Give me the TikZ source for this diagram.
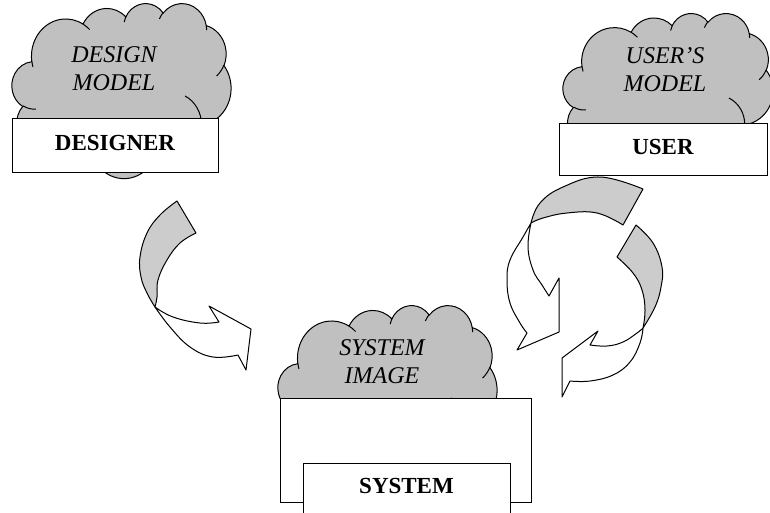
\documentclass[tikz,border=0pt]{standalone}
\usepackage{fontspec}
\setmainfont{Liberation Serif}
\definecolor{cloudfill}{RGB}{192,192,192}
\definecolor{bandfill}{RGB}{204,204,204}

\newcommand\ooPath{}
\newcommand\ooReset{\gdef\ooPath{}}
\newcommand\ooMove[2]{\xdef\ooPath{\ooPath (#1,#2)}}
\newcommand\ooArc[4]{%
  \pgfmathsetmacro\ooA{atan2((#1)*sin(#3),(#2)*cos(#3))}%
  \pgfmathsetmacro\ooE{(#3)+(#4)}%
  \pgfmathsetmacro\ooB{atan2((#1)*sin(\ooE),(#2)*cos(\ooE))}%
  \ifdim #4pt>0pt
    \ifdim \ooB pt<\ooA pt \pgfmathsetmacro\ooB{\ooB+360}\fi
  \else
    \ifdim \ooB pt>\ooA pt \pgfmathsetmacro\ooB{\ooB-360}\fi
  \fi
  \xdef\ooPath{\ooPath arc[x radius=#1,y radius=#2,start angle=\ooA,end angle=\ooB]}%
}
\newcommand\drawcloud[4]{%
  \begin{scope}[shift={(#1,#2)},xscale=#3/43.2,yscale=#4/43.2]
    \filldraw[cloudstyle] \ooOutline -- cycle;
    \draw[cloudstyle,fill=none] \ooInner;
  \end{scope}}

\tikzset{
  cloudstyle/.style={draw=black,fill=cloudfill,line width=1pt},
  cloudtext/.style={font=\fontsize{24}{28}\selectfont\itshape,align=center,inner sep=0pt},
  boxnode/.style={draw=black,fill=white,line width=1pt,font=\fontsize{23}{26}\selectfont\bfseries,inner xsep=0pt},
  band/.style={draw=black,fill=bandfill,line width=1pt,line join=round},
  front/.style={draw=black,fill=white,line width=1pt,line join=round},
}

\begin{document}
\begin{tikzpicture}[x=1pt,y=-1pt]
\useasboundingbox (0,0) rectangle (770,512);
\clip (0,0) rectangle (770,512);
% cloud geometry
\ooReset
\ooMove{3.900}{14.370}
\ooArc{6.753}{9.190}{-190.48748}{123.78053}
\ooArc{5.333}{7.267}{-144.10238}{89.94523}
\ooArc{4.365}{5.945}{-145.80792}{99.72302}
\ooArc{4.857}{6.595}{-130.98607}{117.24173}
\ooArc{5.333}{7.273}{-78.70888}{109.02692}
\ooArc{6.775}{9.220}{-46.26725}{130.26900}
\ooArc{5.785}{7.867}{0.62502}{114.03333}
\ooArc{6.752}{9.215}{22.45160}{115.17255}
\ooArc{7.720}{10.543}{66.24263}{75.71102}
\ooArc{4.360}{5.918}{-274.94208}{146.73557}
\ooArc{4.345}{5.945}{-246.82850}{152.51885}
\global\let\ooOutline\ooPath
\ooReset
\ooMove{4.693}{26.177}\ooArc{4.345}{5.945}{86.74200}{26.42950}
\ooMove{6.928}{34.899}\ooArc{4.360}{5.918}{73.61047}{11.44747}
\ooMove{16.478}{39.090}\ooArc{6.752}{9.215}{137.62415}{14.08110}
\ooMove{28.827}{34.751}\ooArc{6.752}{9.215}{6.45327}{15.99835}
\ooMove{34.129}{22.954}\ooArc{5.785}{7.867}{-70.29235}{70.91737}
\ooMove{41.798}{15.354}\ooArc{5.333}{7.273}{30.31803}{27.75150}
\ooMove{38.324}{5.426}\ooArc{4.857}{6.595}{-13.74433}{14.85762}
\ooMove{29.078}{3.952}\ooArc{4.857}{6.595}{-149.18145}{18.19677}
\ooMove{22.141}{4.720}\ooArc{4.365}{5.945}{-163.49427}{17.69992}
\ooMove{14.000}{5.192}\ooArc{6.753}{9.190}{-66.70695}{12.31935}
\ooMove{4.127}{15.789}\ooArc{6.753}{9.190}{157.65435}{11.85817}
\global\let\ooInner\ooPath

% clouds
\drawcloud{12}{3}{219}{175}
\drawcloud{563}{13}{210}{160}
\drawcloud{278}{305}{219}{175}

\node[cloudtext] (designmodel) at (114,69) {DESIGN\\MODEL};
\node[cloudtext] (usermodel) at (665,69.5) {USER’S\\MODEL};
\node[cloudtext] (sysimage) at (382,362) {SYSTEM\\IMAGE};

% boxes
\node[boxnode,minimum width=206pt,inner ysep=16.5pt,text height=15.5pt,text depth=5.5pt] (designer) at (115,145) {DESIGNER};
\node[boxnode,minimum width=208pt,inner ysep=15.5pt,text height=15.5pt,text depth=5.5pt] (user) at (663,149) {USER};
\node[draw=black,fill=white,line width=1pt,minimum width=251pt,minimum height=104pt,inner sep=0pt] (sysouter) at (405.5,450) {};
\node[boxnode,minimum width=207pt,inner ysep=14.5pt,text height=15.5pt,text depth=15.5pt] (system) at (406.5,493) {SYSTEM};

% left curved arrow
\filldraw[band] (177,201) -- plot[smooth,tension=0.7] coordinates {(196,233) (180,243) (167,260) (158,280) (157,297) (155,307)}
  -- plot[smooth,tension=0.7] coordinates {(155,307) (147,293) (141,277) (140,257) (147,233) (160,215) (177,201)} -- cycle;
\filldraw[front] (155,307) -- plot[smooth,tension=0.7] coordinates {(155,307) (173,317) (200,323) (219,322)}
  -- (209,306) -- (251,329) -- (246,370) -- (238,355)
  -- plot[smooth,tension=0.7] coordinates {(238,355) (213,357) (190,347) (170,327) (155,307)} -- cycle;

% right arrow A
\filldraw[band] (643,189) -- (623,225) -- plot[smooth,tension=0.7] coordinates {(623,225) (597,213) (567,213) (543,218) (531,223)}
  -- plot[smooth,tension=0.7] coordinates {(531,223) (540,203) (563,187) (600,177) (643,189)} -- cycle;
\filldraw[front] (531,223) -- plot[smooth,tension=0.7] coordinates {(531,223) (523,237) (510,260) (507,280) (510,303) (520,323) (527,333)}
  -- (517,350) -- (559,332) -- (559,278) -- (549,296)
  -- plot[smooth,tension=0.7] coordinates {(549,296) (542,285) (533,270) (528,247) (531,223)} -- cycle;

% right arrow B
\filldraw[band] (636,225) -- (617,257) -- plot[smooth,tension=0.7] coordinates {(617,257) (633,273) (642,290) (645,310) (643,328)}
  -- plot[smooth,tension=0.7] coordinates {(643,328) (655,307) (661,287) (662,267) (653,243) (636,225)} -- cycle;
\filldraw[front] (643,328) -- plot[smooth,tension=0.7] coordinates {(643,328) (637,333) (623,342) (607,346) (590,345)}
  -- (598,331) -- (562,358) -- (562,397) -- (570,381)
  -- plot[smooth,tension=0.7] coordinates {(570,381) (590,381) (613,375) (630,362) (640,343) (643,328)} -- cycle;
\end{tikzpicture}
\end{document}
